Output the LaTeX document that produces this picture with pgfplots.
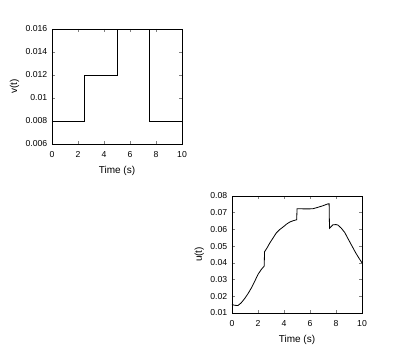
\documentclass[border=0pt]{standalone}
\usepackage{fontspec}
\setmainfont{Liberation Sans}
\usepackage{pgfplots}
\pgfplotsset{compat=1.18}

\pgfplotsset{
  octave/.style={
    scale only axis,
    width=97.5pt,
    xmin=0, xmax=10,
    xtick={0,2,4,6,8,10},
    tick align=inside,
    xtick pos=both, ytick pos=both,
    major tick length=2pt,
    axis line style={line width=0.5pt},
    tick style={line width=0.4pt},
    scaled y ticks=false,
    font=\fontsize{7.5}{8.5}\selectfont,
    ticklabel style={font=\fontsize{6.5}{7.5}\selectfont},
    xticklabel style={yshift=-2pt},
    /pgf/number format/assume math mode=true,
    xlabel={Time (s)},
    xlabel style={yshift=0.5pt},
    ylabel style={yshift=-2pt},
    clip=false,
  }
}

\begin{document}
\begin{tikzpicture}[x=0.75pt,y=0.75pt]
\useasboundingbox (0,0) rectangle (400,349);

\begin{axis}[octave,
  at={(39pt,153.75pt)}, anchor=south west,
  height=86.25pt,
  ymin=0.006, ymax=0.016,
  ytick={0.006,0.008,0.01,0.012,0.014,0.016},
  yticklabels={0.006,0.008,0.01,0.012,0.014,0.016},
  ylabel={v(t)},
]
\addplot[black, line width=0.7pt, const plot] coordinates {
  (0,0.008) (2.5,0.012) (5,0.016) (7.5,0.008) (10,0.008)
};
\end{axis}

\begin{axis}[octave,
  at={(174pt,27pt)}, anchor=south west,
  height=87.75pt,
  ymin=0.01, ymax=0.08,
  ytick={0.01,0.02,0.03,0.04,0.05,0.06,0.07,0.08},
  yticklabels={0.01,0.02,0.03,0.04,0.05,0.06,0.07,0.08},
  ylabel={u(t)},
]
\addplot[black, line width=0.6pt] coordinates {
  (0,0.0151) (0.2,0.0146) (0.46,0.0145) (0.7,0.0160) (0.98,0.0187)
  (1.25,0.0218) (1.49,0.0250) (1.75,0.0290) (2.0,0.0331) (2.25,0.0360)
  (2.48,0.0381) (2.5,0.0466) (2.7,0.0490) (2.9,0.0518) (3.15,0.0548)
  (3.4,0.0578) (3.65,0.0598) (3.92,0.0614) (4.2,0.0632) (4.44,0.0644)
  (4.7,0.0652) (4.98,0.0658) (5.0,0.0724) (5.5,0.0723) (6.0,0.0723)
  (6.23,0.0724) (6.6,0.0732) (7.0,0.0742) (7.38,0.0753) (7.47,0.0753)
  (7.5,0.0607) (7.77,0.0628) (8.0,0.0629) (8.15,0.0626) (8.4,0.0608)
  (8.67,0.0582) (8.9,0.0548) (9.18,0.0508) (9.5,0.0462) (9.75,0.0430)
  (10,0.0400)
};
\end{axis}
\end{tikzpicture}
\end{document}
